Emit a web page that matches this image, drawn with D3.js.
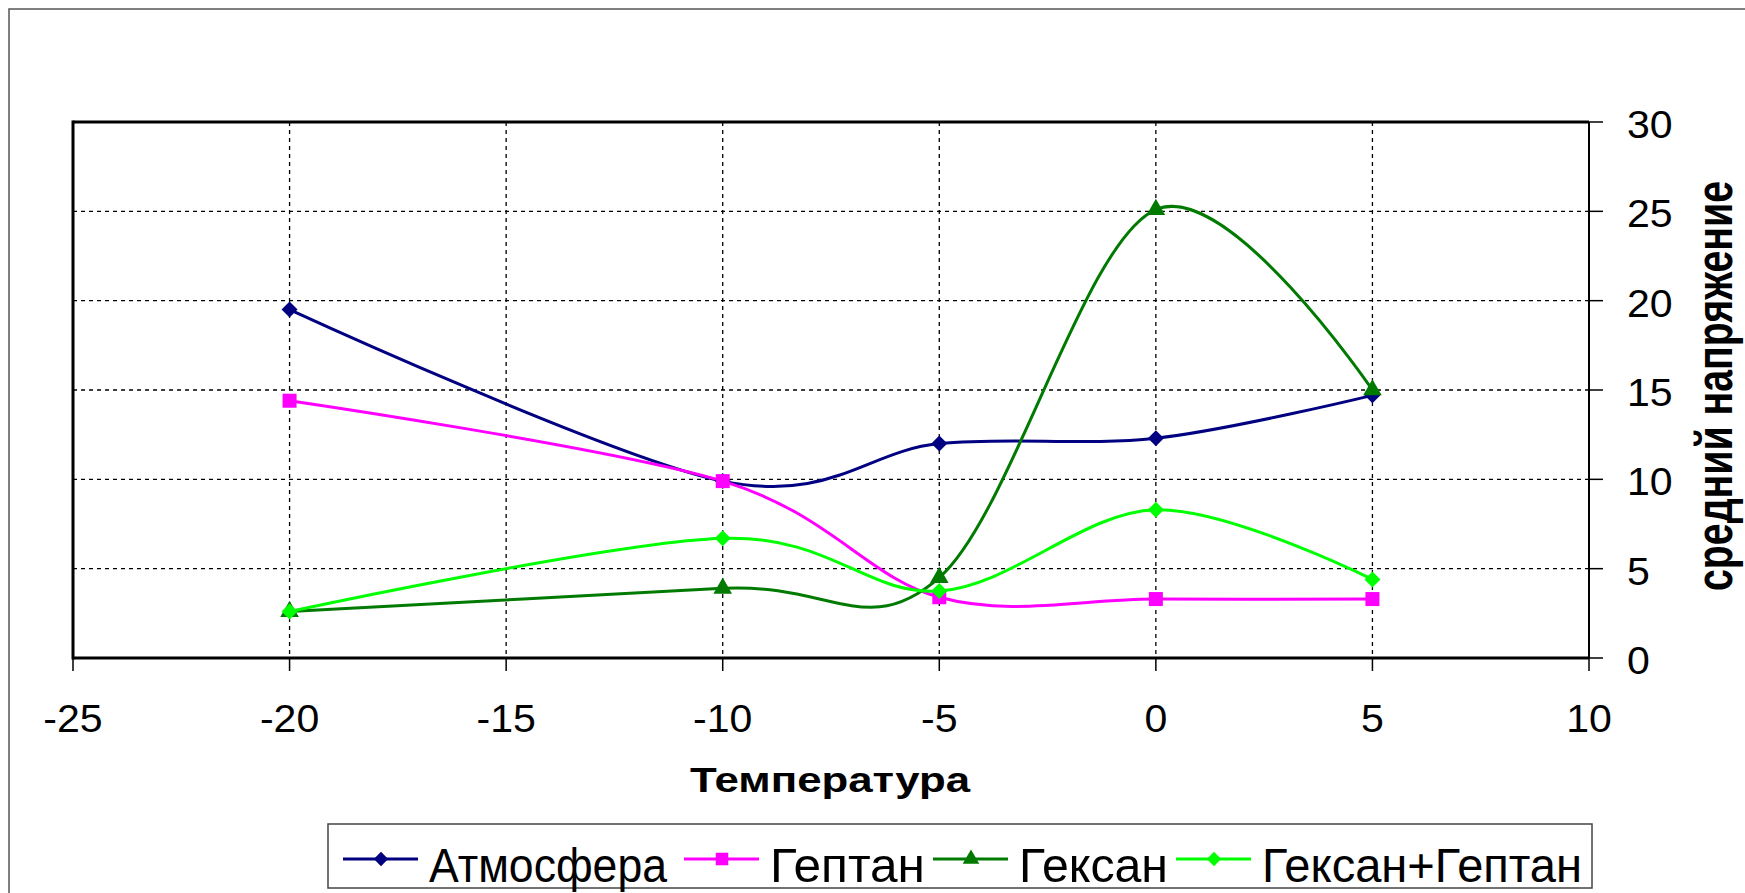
<!DOCTYPE html>
<html><head><meta charset="utf-8">
<script src="https://cdn.jsdelivr.net/npm/d3@7"></script>
<style>body{margin:0;background:#fff}svg{display:block}text{font-family:"Liberation Sans",Arial,sans-serif}</style>
</head><body><svg id="c" width="1745" height="893"></svg>
<script>
const temps = [-20, -10, -5, 0, 5];
const atmosfera = [19.5, 9.9, 12.0, 12.3, 14.7];
const geptan = [14.4, 9.9, 3.4, 3.3, 3.3];
const geksan = [2.6, 3.9, 4.5, 25.1, 15.0];
const geksanGeptan = [2.6, 6.7, 3.75, 8.3, 4.4];
const seriesNames = ["Атмосфера", "Гептан", "Гексан", "Гексан+Гептан"];
const xTicks = [-25, -20, -15, -10, -5, 0, 5, 10];
const yTicks = [0, 5, 10, 15, 20, 25, 30];
const xTitle = "Температура";
const yTitle = "средний напряжение";

const svg = d3.select("#c");
const L = 73, R = 1589, T = 122, B = 658;
const x = d3.scaleLinear().domain([-25, 10]).range([L, R]);
const y = d3.scaleLinear().domain([0, 30]).range([B, T]);

// outer frame
svg.append("rect").attr("x", 9).attr("y", 9).attr("width", 1745).attr("height", 893)
  .attr("fill", "none").attr("stroke", "#555").attr("stroke-width", 1.5);

// gridlines
const g = svg.append("g");
g.selectAll(".vg").data(xTicks.slice(1, -1)).join("line")
  .attr("x1", d => x(d)).attr("x2", d => x(d)).attr("y1", T).attr("y2", B)
  .attr("stroke", "#000").attr("stroke-width", 1.3).attr("stroke-dasharray", "4,4");
g.selectAll(".hg").data(yTicks.slice(1, -1)).join("line")
  .attr("x1", L).attr("x2", R).attr("y1", d => y(d)).attr("y2", d => y(d))
  .attr("stroke", "#000").attr("stroke-width", 1.3).attr("stroke-dasharray", "4,4");

// frame
svg.append("line").attr("x1", L).attr("x2", L).attr("y1", T - 1.5).attr("y2", B + 1.5).attr("stroke", "#000").attr("stroke-width", 3);
svg.append("line").attr("x1", L).attr("x2", R).attr("y1", T).attr("y2", T).attr("stroke", "#000").attr("stroke-width", 3);
svg.append("line").attr("x1", L).attr("x2", R).attr("y1", B).attr("y2", B).attr("stroke", "#000").attr("stroke-width", 3);
svg.append("line").attr("x1", R).attr("x2", R).attr("y1", T).attr("y2", B).attr("stroke", "#000").attr("stroke-width", 2);

// x axis ticks/labels
const xa = svg.append("g");
xa.selectAll("line").data(xTicks).join("line")
  .attr("x1", d => x(d)).attr("x2", d => x(d)).attr("y1", B).attr("y2", B + 13)
  .attr("stroke", "#000").attr("stroke-width", 1.5);
xa.selectAll("text").data(xTicks).join("text")
  .attr("transform", d => `translate(${x(d)},732) scale(1.08,1)`)
  .attr("text-anchor", "middle").attr("font-size", 38).text(d => d);

// y axis ticks/labels (right)
const ya = svg.append("g");
ya.selectAll("line").data(yTicks).join("line")
  .attr("x1", R).attr("x2", R + 14).attr("y1", d => y(d)).attr("y2", d => y(d))
  .attr("stroke", "#000").attr("stroke-width", 1.5);
ya.selectAll("text").data(yTicks).join("text")
  .attr("transform", d => `translate(1627,${y(d) + 16}) scale(1.08,1)`)
  .attr("text-anchor", "start").attr("font-size", 38).text(d => d);

// titles
svg.append("text").attr("x", 830).attr("y", 792).attr("text-anchor", "middle")
  .attr("font-size", 35).attr("font-weight", "bold")
  .attr("textLength", 280).attr("lengthAdjust", "spacingAndGlyphs").text(xTitle);
svg.append("text").attr("transform", "translate(1732,386) rotate(-90)").attr("text-anchor", "middle")
  .attr("font-size", 52).attr("font-weight", "bold")
  .attr("textLength", 410).attr("lengthAdjust", "spacingAndGlyphs").text(yTitle);

// series
const colors = ["#000080", "#ff00ff", "#007a00", "#00ff00"];
const symbols = [
  {type: d3.symbolSquare, size: 128, rot: 45},
  {type: d3.symbolSquare, size: 196, rot: 0},
  {type: d3.symbolTriangle, size: 150, rot: 0},
  {type: d3.symbolSquare, size: 128, rot: 45}
];
const values = [atmosfera, geptan, geksan, geksanGeptan];
const line = d3.line().x(d => x(d[0])).y(d => y(d[1])).curve(d3.curveCardinal.tension(0));
values.forEach((vals, i) => {
  const pts = temps.map((t, j) => [t, vals[j]]);
  svg.append("path").datum(pts).attr("d", line).attr("fill", "none")
    .attr("stroke", colors[i]).attr("stroke-width", 3);
});
values.forEach((vals, i) => {
  const pts = temps.map((t, j) => [t, vals[j]]);
  svg.append("g").selectAll("path").data(pts).join("path")
    .attr("d", d3.symbol().type(symbols[i].type).size(symbols[i].size))
    .attr("transform", d => `translate(${x(d[0])},${y(d[1])}) rotate(${symbols[i].rot})`)
    .attr("fill", colors[i]);
});

// legend
const lg = svg.append("g");
lg.append("rect").attr("x", 328).attr("y", 824).attr("width", 1264).attr("height", 64)
  .attr("fill", "#fff").attr("stroke", "#444").attr("stroke-width", 1.5);
const legX = [343, 684, 933, 1176];
const legTextLen = [238, 155, 149, 320];
seriesNames.forEach((n, i) => {
  lg.append("line").attr("x1", legX[i]).attr("x2", legX[i] + 75).attr("y1", 859).attr("y2", 859)
    .attr("stroke", colors[i]).attr("stroke-width", 3);
  lg.append("path").attr("d", d3.symbol().type(symbols[i].type).size(symbols[i].size * 0.8))
    .attr("transform", `translate(${legX[i] + 38},859) rotate(${symbols[i].rot})`).attr("fill", colors[i]);
  lg.append("text").attr("x", legX[i] + 86).attr("y", 882).attr("font-size", 48)
    .attr("textLength", legTextLen[i]).attr("lengthAdjust", "spacingAndGlyphs").text(n);
});
</script></body></html>
